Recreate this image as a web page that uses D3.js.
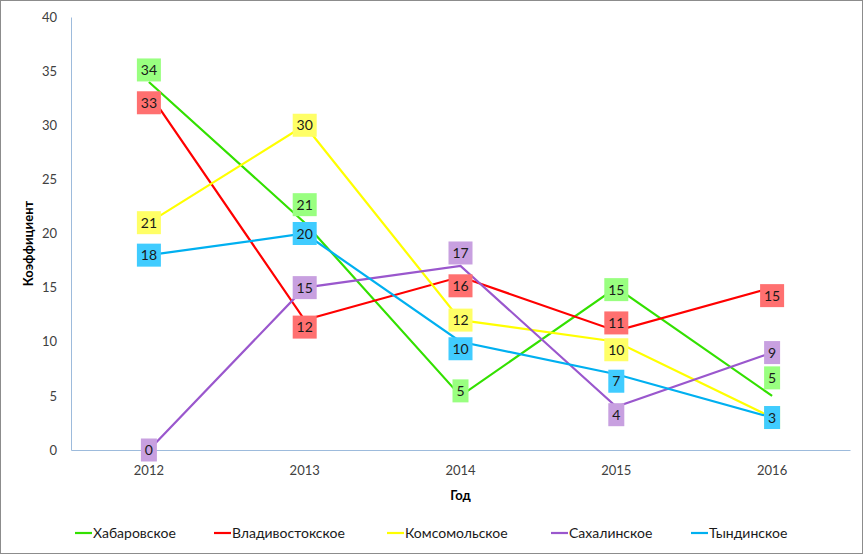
<!DOCTYPE html>
<html>
<head>
<meta charset="utf-8">
<script src="https://cdn.jsdelivr.net/npm/d3@7"></script>
<style>
  body { margin: 0; background: #fff; }
  text { font-family: Lato, "Open Sans", sans-serif; }
</style>
</head>
<body>
<div id="chart"></div>
<script>
  const years = ["2012", "2013", "2014", "2015", "2016"];
  const seriesNames = ["Хабаровское", "Владивостокское", "Комсомольское", "Сахалинское", "Тындинское"];
  const khabarovsk = [34, 21, 5, 15, 5];
  const vladivostok = [33, 12, 16, 11, 15];
  const komsomolsk = [21, 30, 12, 10, 3];
  const sakhalin = [0, 15, 17, 4, 9];
  const tynda = [18, 20, 10, 7, 3];
  const yTicks = [0, 5, 10, 15, 20, 25, 30, 35, 40];

  // styling per series (line colour, label box colour, label vertical shift)
  const lineColors = ["#33e000", "#ff0000", "#ffff00", "#9a57cd", "#00b0f0"];
  const boxColors = ["#99ff80", "#ff7070", "#ffff66", "#c8a0e0", "#40ccff"];
  const labelShift = [
    [-12, -18, -5, 2, -18],
    [10, 7, 9, -8, 8],
    [0, 0, 0, 8, 0],
    [0, 0, -13, 8, 0],
    [0, 0, 7, 7, 0]
  ];

  const allValues = [khabarovsk, vladivostok, komsomolsk, sakhalin, tynda];
  const series = seriesNames.map((name, i) => ({
    name, color: lineColors[i], box: boxColors[i],
    values: allValues[i].map((v, j) => ({ year: years[j], v, dy: labelShift[i][j] }))
  }));

  const W = 863, H = 554;
  const svg = d3.select("#chart").append("svg")
    .attr("width", W).attr("height", H);

  svg.append("rect")
    .attr("x", 0.5).attr("y", 0.5)
    .attr("width", W - 1).attr("height", H - 1)
    .attr("fill", "#fff").attr("stroke", "#8c8c8c");

  const margin = { top: 17, right: 13, bottom: 104, left: 71 };
  const width = W - margin.left - margin.right;
  const height = H - margin.top - margin.bottom;

  const x = d3.scaleBand().domain(years).range([0, width]);
  const y = d3.scaleLinear().domain([0, 40]).range([height, 0]);

  const g = svg.append("g")
    .attr("transform", `translate(${margin.left}, ${margin.top})`);

  // Axes
  const yAxis = g.append("g")
    .call(d3.axisLeft(y).tickValues(yTicks).tickSize(0).tickPadding(14));
  yAxis.select(".domain").attr("stroke", "#9dbbdc");
  yAxis.selectAll("text").attr("font-size", 13).attr("fill", "#404040")
    .attr("font-family", "Lato, sans-serif");

  const xAxis = g.append("g")
    .attr("transform", `translate(0, ${height})`)
    .call(d3.axisBottom(x).tickSize(0).tickPadding(16));
  xAxis.select(".domain").attr("stroke", "#9dbbdc");
  xAxis.selectAll("text").attr("font-size", 13).attr("fill", "#404040")
    .attr("font-family", "Lato, sans-serif");

  // Axis titles
  svg.append("text")
    .attr("transform", `translate(33, ${margin.top + height / 2 + 10}) rotate(-90)`)
    .attr("text-anchor", "middle")
    .attr("font-size", 13).attr("font-weight", "bold")
    .text("Коэффициент");

  svg.append("text")
    .attr("x", margin.left + width / 2).attr("y", 500)
    .attr("text-anchor", "middle")
    .attr("font-size", 13).attr("font-weight", "bold")
    .text("Год");

  // Lines
  const line = d3.line()
    .x(d => x(d.year) + x.bandwidth() / 2)
    .y(d => y(d.v));

  g.selectAll(".series")
    .data(series)
    .enter()
    .append("path")
    .attr("d", d => line(d.values))
    .attr("fill", "none")
    .attr("stroke", d => d.color)
    .attr("stroke-width", 2.2);

  // Data labels
  series.forEach(s => {
    const lg = g.append("g");
    s.values.forEach(d => {
      const cx = x(d.year) + x.bandwidth() / 2;
      const cy = y(d.v) + d.dy;
      const txt = String(d.v);
      const bw = txt.length > 1 ? 24 : 16;
      lg.append("rect")
        .attr("x", cx - bw / 2).attr("y", cy - 11.5)
        .attr("width", bw).attr("height", 23)
        .attr("fill", s.box);
      lg.append("text")
        .attr("x", cx).attr("y", cy + 5)
        .attr("text-anchor", "middle")
        .attr("font-size", 14).attr("fill", "#1a1a1a")
        .text(txt);
    });
  });

  // Legend
  const legendX = [75, 214, 387, 551, 691];
  const legend = svg.append("g").attr("transform", "translate(0, 533)");
  series.forEach((s, i) => {
    legend.append("line")
      .attr("x1", legendX[i]).attr("x2", legendX[i] + 17)
      .attr("y1", 0).attr("y2", 0)
      .attr("stroke", s.color).attr("stroke-width", 2.2);
    legend.append("text")
      .attr("x", legendX[i] + 18).attr("y", 5)
      .attr("font-size", 14).attr("fill", "#1a1a1a")
      .text(s.name);
  });
</script>
</body>
</html>
